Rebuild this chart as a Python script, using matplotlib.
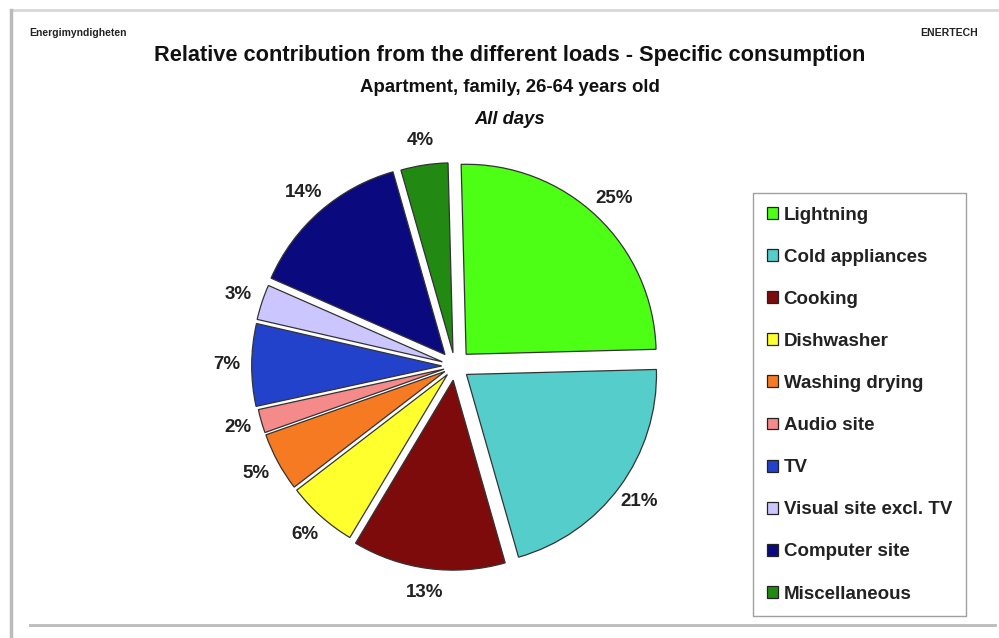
import matplotlib
matplotlib.use("Agg")
import matplotlib.pyplot as plt
from matplotlib.patches import Patch
from matplotlib.lines import Line2D

categories = ["Lightning", "Cold appliances", "Cooking", "Dishwasher", "Washing drying",
              "Audio site", "TV", "Visual site excl. TV", "Computer site", "Miscellaneous"]
values = [25, 21, 13, 6, 5, 2, 7, 3, 14, 4]
colors = ["#4CFF14", "#55CDCB", "#7D0B0B", "#FFFF2E", "#F57A22",
          "#F58A8A", "#2342CC", "#CCC6FF", "#0A0A7E", "#228A12"]
explode = [0.085, 0.075, 0.075, 0.06, 0.06, 0.06, 0.07, 0.07, 0.08, 0.07]

W, H = 999, 638
fig = plt.figure(figsize=(W / 100, H / 100), dpi=100)
fig.patch.set_facecolor("white")

def fx(px):
    return px / W

def fy(py):
    return 1 - py / H

# pie axes: centre (455, 366) px, radius 190 px
cx, cy, R, half = 455, 366, 190, 250
ax = fig.add_axes([fx(cx - half), fy(cy + half), 2 * half / W, 2 * half / H])
wedges, texts, autotexts = ax.pie(values, colors=colors, explode=explode, startangle=91.5,
                                  counterclock=False, autopct="%.0f%%", pctdistance=1.13,
                                  wedgeprops=dict(edgecolor="#333333", linewidth=0.9))
for t in autotexts:
    t.set_fontfamily("Liberation Sans")
    t.set_fontweight("bold")
    t.set_fontsize(13.5)
    t.set_color("#222222")
lim = half / R
ax.set_xlim(-lim, lim)
ax.set_ylim(-lim, lim)
ax.set_aspect("auto")
ax.axis("off")

font = "Liberation Sans"
fig.text(fx(510), fy(55), "Relative contribution from the different loads - Specific consumption",
         ha="center", va="center", fontsize=15.7, fontweight="bold", family=font, color="#111111")
fig.text(fx(510), fy(88), "Apartment, family, 26-64 years old",
         ha="center", va="center", fontsize=13.4, fontweight="bold", family=font, color="#111111")
fig.text(fx(510), fy(119), "All days",
         ha="center", va="center", fontsize=13.2, fontweight="bold", style="italic", family=font,
         color="#111111")
fig.text(fx(29), fy(33), "Energimyndigheten", ha="left", va="center", fontsize=7.5,
         fontweight="bold", family=font, color="#222222")
fig.text(fx(978), fy(33), "ENERTECH", ha="right", va="center", fontsize=7.6,
         fontweight="bold", family=font, color="#222222")

handles = [Patch(facecolor=c, edgecolor="#222222", linewidth=0.9) for c in colors]
leg = fig.legend(handles, categories, loc="upper left",
                 bbox_to_anchor=(fx(753), fy(193)), frameon=True, fancybox=False,
                 prop=dict(family=font, weight="bold", size=13.5),
                 handlelength=0.6, handleheight=0.6, handletextpad=0.32,
                 labelspacing=1.34, borderpad=0.72, borderaxespad=0)
leg.get_frame().set_edgecolor("#888888")
leg.get_frame().set_linewidth(1.0)
for t in leg.get_texts():
    t.set_color("#222222")

# slide frame lines
fig.add_artist(Line2D([fx(11), fx(999)], [fy(10), fy(10)], color="#D8D8D8", lw=2))
fig.add_artist(Line2D([fx(11), fx(11)], [fy(10), fy(638)], color="#BBBBBB", lw=2.5))
fig.add_artist(Line2D([fx(30), fx(995)], [fy(625), fy(625)], color="#BBBBBB", lw=2))

fig.savefig("out.png", dpi=100)
